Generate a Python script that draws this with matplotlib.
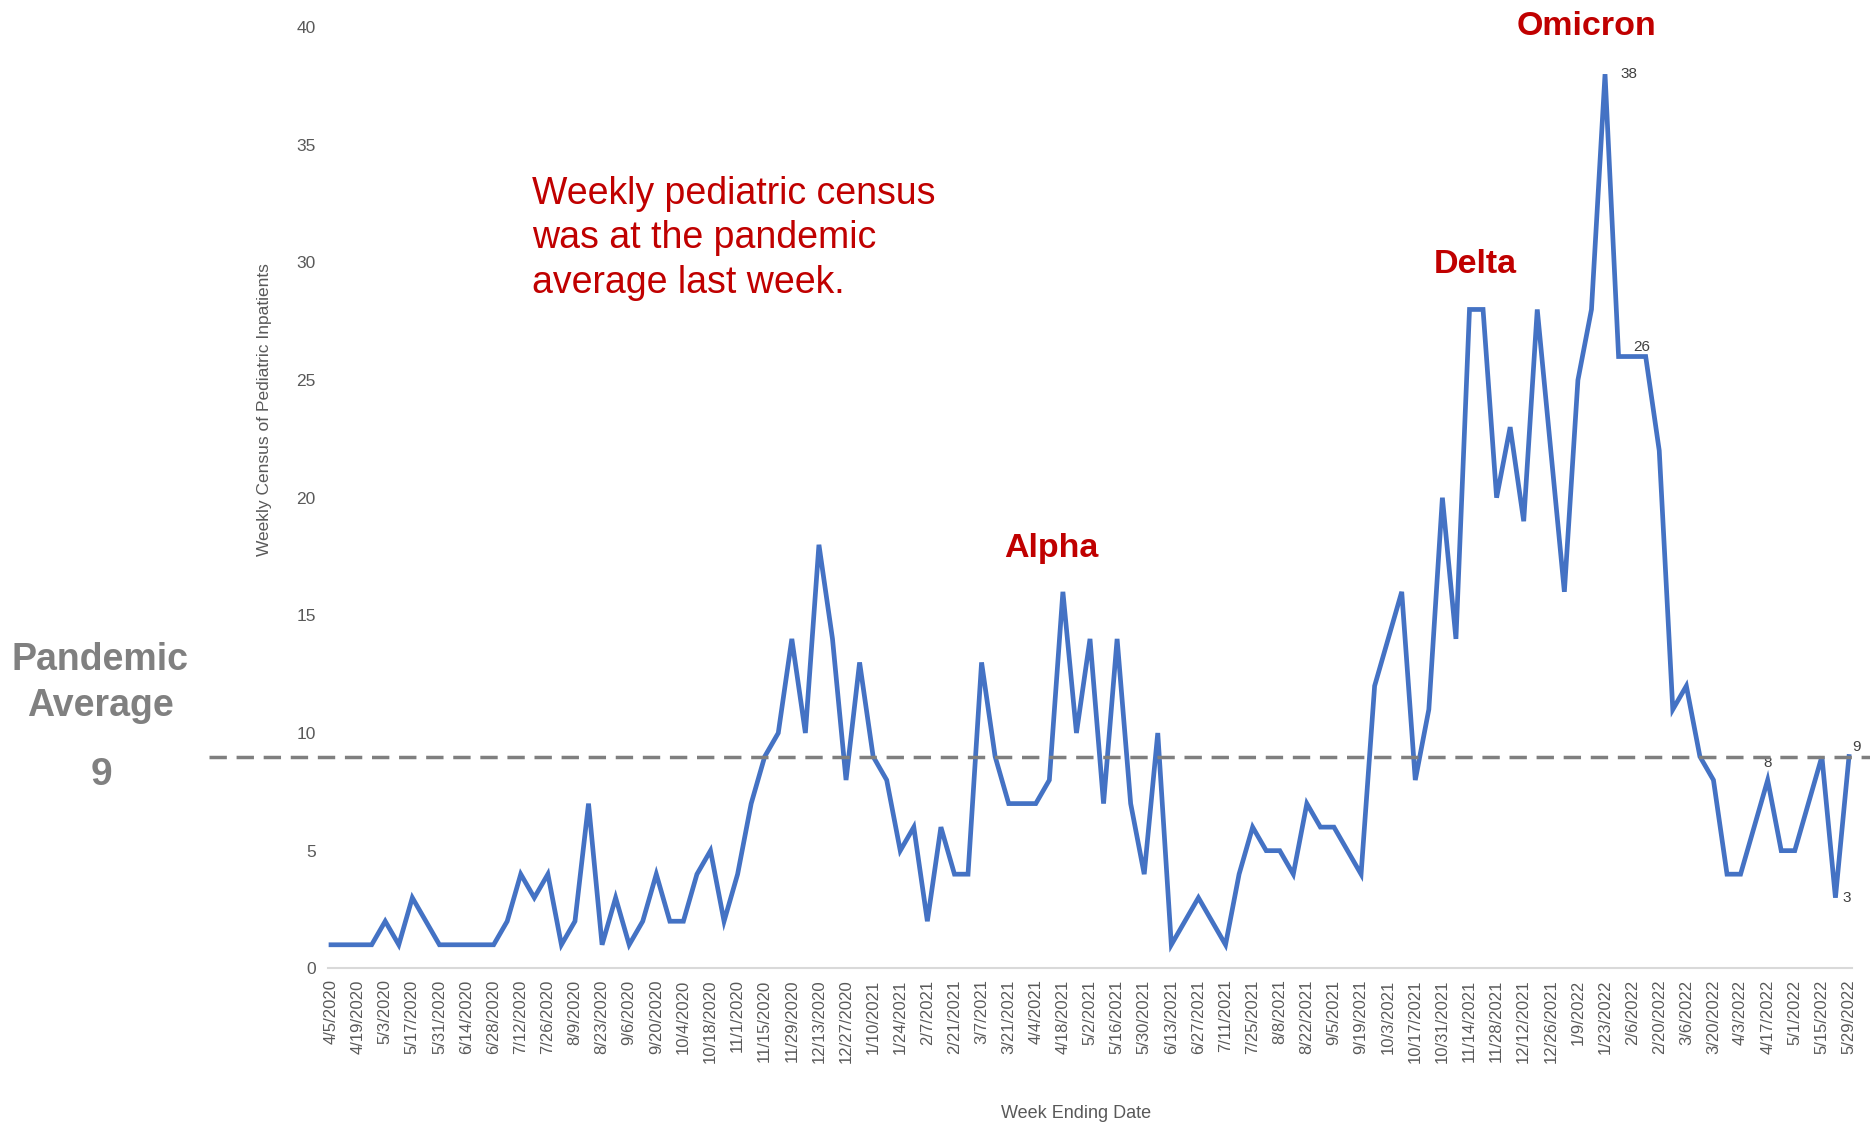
import matplotlib
matplotlib.use("Agg")
import matplotlib.pyplot as plt
import matplotlib.transforms as mtransforms
import pandas as pd

# Data: weekly census of pediatric inpatients, week ending 4/5/2020 .. 5/29/2022
census = [1, 1, 1, 1, 2, 1, 3, 2, 1, 1, 1, 1, 1, 2, 4, 3, 4, 1, 2, 7,
          1, 3, 1, 2, 4, 2, 2, 4, 5, 2, 4, 7, 9, 10, 14, 10, 18, 14, 8, 13,
          9, 8, 5, 6, 2, 6, 4, 4, 13, 9, 7, 7, 7, 8, 16, 10, 14, 7, 14, 7,
          4, 10, 1, 2, 3, 2, 1, 4, 6, 5, 5, 4, 7, 6, 6, 5, 4, 12, 14, 16,
          8, 11, 20, 14, 28, 28, 20, 23, 19, 28, 22, 16, 25, 28, 38, 26, 26, 26, 22, 11,
          12, 9, 8, 4, 4, 6, 8, 5, 5, 7, 9, 3, 9]
week_ending = pd.date_range("2020-04-05", periods=len(census), freq="7D")
week_labels = [f"{d.month}/{d.day}/{d.year}" for d in week_ending]
pandemic_avg = 9

# labelled points: (index, text, x offset pt, y offset pt, ha, va)
point_labels = [(94, "38", 11, 0, "left", "center"),
                (96, "26", 7, 2, "center", "bottom"),
                (106, "8", 0, 7, "center", "bottom"),
                (111, "3", 5, 0, "left", "center"),
                (112, "9", 2, 7, "left", "center")]

W, H = 1870, 1124
fig = plt.figure(figsize=(W / 100, H / 100), dpi=100, facecolor="white")
ax = fig.add_axes([328.3 / W, 1 - 968.3 / H, 1523.4 / W, 941.2 / H])

x = list(range(len(census)))
ax.plot(x, census, color="#4472C4", lw=3.4, solid_joinstyle="miter", zorder=3)

# pandemic average dashed line, runs past the axes on the left
blend = mtransforms.blended_transform_factory(fig.transFigure, ax.transData)
ax.plot([209 / W, 1.0], [pandemic_avg, pandemic_avg], transform=blend,
        color="#7F7F7F", lw=2.5, linestyle=(0, (5.0, 2.8)), clip_on=False, zorder=4)

for i, txt, dx, dy, ha, va in point_labels:
    ax.annotate(txt, xy=(i, census[i]), xytext=(dx, dy), textcoords="offset points",
                ha=ha, va=va, fontsize=11, color="#404040", family="Liberation Sans",
                zorder=2)

ax.set_xlim(-0.2, len(census) - 1 + 0.2)
ax.set_ylim(0, 40)
ax.set_yticks(range(0, 41, 5))
ax.set_xticks(x[::2])
ax.set_xticklabels(week_labels[::2], rotation=90, fontsize=12, color="#595959",
                   family="Liberation Sans")
for lbl in ax.get_yticklabels():
    lbl.set_fontsize(12.5)
    lbl.set_color("#595959")
    lbl.set_family("Liberation Sans")
ax.tick_params(axis="x", length=0, pad=8)
ax.tick_params(axis="y", length=0, pad=9)

for s in ["top", "right", "left"]:
    ax.spines[s].set_visible(False)
ax.spines["bottom"].set_color("#D9D9D9")
ax.spines["bottom"].set_linewidth(1.5)

# axis titles
fig.text(264.7 / W, 1 - 409.7 / H, "Weekly Census of Pediatric Inpatients", rotation=90,
         ha="center", va="center", fontsize=12.5, color="#595959",
         family="Liberation Sans")
fig.text(1076 / W, 1 - 1113 / H, "Week Ending Date", ha="center", va="center",
         fontsize=13, color="#595959", family="Liberation Sans")

# annotations
red = "#C00000"
fig.text(532 / W, 1 - 176 / H, "Weekly pediatric census\nwas at the pandemic\naverage last week.",
         ha="left", va="top", fontsize=27, color=red, family="Liberation Sans", linespacing=1.3)
for txt, cx, by in [("Alpha", 1051, 557), ("Delta", 1475, 273), ("Omicron", 1587, 35)]:
    fig.text(cx / W, 1 - by / H, txt, ha="center", va="baseline", fontsize=24.5,
             fontweight="bold", color=red, family="Liberation Sans")

fig.text(100 / W, 1 - 716 / H, "Pandemic\nAverage", ha="center", va="baseline",
         fontsize=27, fontweight="bold", color="#808080", family="Liberation Sans",
         linespacing=1.35)
fig.text(101 / W, 1 - 785 / H, "9", ha="center", va="baseline", fontsize=28,
         fontweight="bold", color="#808080", family="Liberation Sans")

fig.savefig("out.png", dpi=100, facecolor="white")
